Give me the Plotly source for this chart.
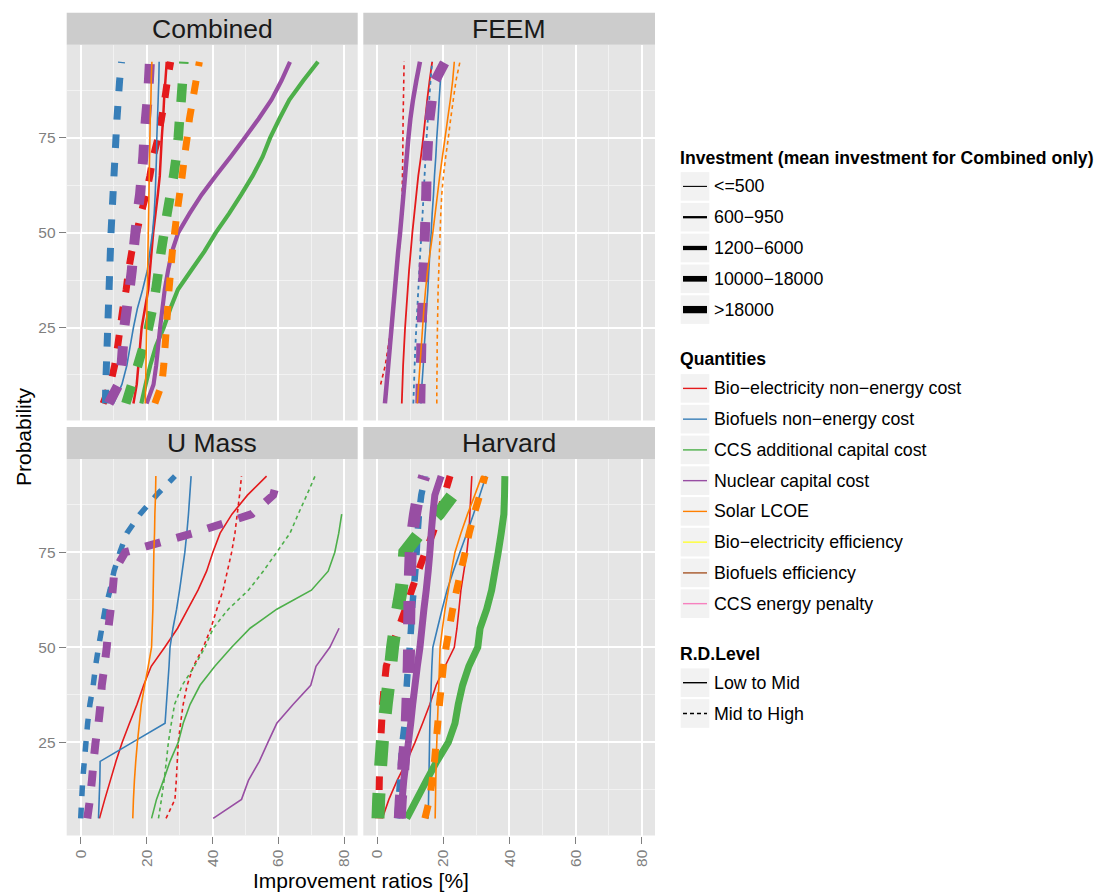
import plotly.graph_objects as go

W, H = 1096, 892

# ---------------- data ----------------
PROB = [5, 10, 15, 20, 25, 30, 35, 40, 45, 50, 55, 60, 65, 70, 75, 80, 85, 90, 95]

PANELS = ["Combined", "FEEM", "U Mass", "Harvard"]
QUANTITIES = ["Bio\u2212electricity non\u2212energy cost", "Biofuels non\u2212energy cost",
              "CCS additional capital cost", "Nuclear capital cost", "Solar LCOE",
              "Bio\u2212electricity efficiency", "Biofuels efficiency", "CCS energy penalty"]
INVEST_LEVELS = ["<=500", "600\u2212950", "1200\u22126000", "10000\u221218000", ">18000"]
RD_LEVELS = ["Low to Mid", "Mid to High"]
X_TICKS = [0, 20, 40, 60, 80]
Y_TICKS = [25, 50, 75]

# Combined
C_BIOELEC_LOW = [16, 17, 17.5, 18, 18.5, 19.5, 20.5, 21, 21.5, 22, 22.7, 23.4, 24, 24.3, 24.6, 25, 25.3, 25.7, 26.1]
C_BIOELEC_HIGH = [6.8, 9, 10.3, 11.2, 12, 12.8, 13.8, 14.5, 15.5, 17, 18.3, 19.8, 21, 22, 23.5, 24.5, 25.5, 26.3, 27.3]
C_BIOFUEL_LOW = [10, 12.5, 14, 15, 16, 17.2, 18.8, 20.2, 21, 21.8, 22.3, 22.6, 22.8, 23, 23.1, 23.3, 23.5, 23.7, 23.8]
C_BIOFUEL_HIGH = [7.5, 7.6, 7.8, 8.0, 8.2, 8.4, 8.6, 8.8, 9.0, 9.2, 9.5, 9.8, 10.1, 10.4, 10.7, 11.0, 11.4, 11.8, 12.4]
C_CCS_LOW = [18.4, 19.7, 21.1, 22.8, 25.2, 27.2, 29.5, 33.5, 37.5, 41, 45, 48.7, 52.2, 55.2, 57.5, 60.3, 63.3, 67.5, 72]
C_CCS_HIGH = [13.7, 15.5, 17.3, 19, 20.6, 21.8, 22.8, 23.6, 24.4, 25.3, 26.2, 27.2, 28.2, 29, 29.6, 30, 30.5, 30.9, 31.3]
C_NUC_LOW = [20, 22.1, 22.9, 23.5, 24.1, 24.8, 25.5, 26.5, 27.7, 29.6, 33, 36.7, 41, 45.5, 49.8, 54, 57.9, 60.9, 63.5]
C_NUC_HIGH = [8.5, 11.5, 12.4, 12.8, 13.2, 14, 14.8, 15.5, 16, 16.6, 17.2, 18, 18.5, 19, 19.3, 19.8, 20.3, 20.7, 21]
C_SOLAR_LOW = [19.6, 19.7, 19.8, 19.9, 20.0, 20.1, 20.2, 20.3, 20.4, 20.5, 20.6, 20.7, 20.8, 20.9, 21.0, 21.1, 21.3, 21.4, 21.6]
C_SOLAR_HIGH = [22.5, 24.6, 25.2, 25.6, 26, 26.4, 26.8, 27.3, 27.8, 28.5, 29.2, 30, 30.8, 31.5, 32.3, 33, 34, 35, 36]

# FEEM
F_BIOELEC_LOW = [7.4, 7.6, 7.8, 8.1, 8.4, 8.8, 9.2, 9.6, 10.1, 10.6, 11.2, 11.8, 12.4, 13.2, 13.9, 14.5, 15.1, 15.8, 16.6]
F_BIOELEC_HIGH = [None, 1.0, 2.4, 3.3, 4.1, 4.8, 5.4, 6.0, 6.6, 7.0, 7.3, 7.5, 7.6, 7.7, 7.75, 7.8, 7.9, 8.0, 8.1]
F_BIOFUEL_LOW = [13.2, 13.5, 13.9, 14.2, 14.6, 14.9, 15.3, 15.6, 15.9, 16.3, 16.6, 17.0, 17.3, 17.7, 18.0, 18.4, 18.7, 19.1, 19.5]
F_BIOFUEL_HIGH = [10.9, 11.1, 11.3, 11.5, 11.8, 12.1, 12.4, 12.7, 13.0, 13.4, 13.7, 14, 14.3, 14.6, 14.9, 15.3, 15.7, 16.1, 16.6]
F_NUC_LOW = [2.3, 2.8, 3.3, 3.8, 4.3, 4.8, 5.3, 5.8, 6.3, 6.9, 7.4, 7.9, 8.4, 8.9, 9.4, 10, 10.8, 11.8, 12.9]
F_NUC_HIGH = [13.0, 13.1, 13.2, 13.3, 13.4, 13.6, 13.8, 14.0, 14.2, 14.4, 14.6, 14.8, 14.9, 15.1, 15.4, 15.8, 16.5, 17.5, 20.5]
F_SOLAR_LOW = [12.1, 12.5, 12.9, 13.3, 13.7, 14.1, 14.6, 15.2, 16, 16.8, 17.5, 18.2, 18.9, 19.7, 20.5, 21.3, 22.1, 22.8, 23.3]
F_SOLAR_HIGH = [18, 18, 18.1, 18.1, 18.2, 18.3, 18.4, 18.6, 18.8, 19, 19.2, 19.5, 20, 20.7, 21.5, 22.2, 23, 23.8, 25]

# U Mass
U_BIOELEC_LOW = [5.7, 7.3, 9.0, 10.7, 12.6, 14.8, 17.1, 19.1, 21.4, 25.5, 29.4, 32.5, 35.6, 38.2, 40.1, 42.3, 45.9, 50.6, 56.4]
U_BIOELEC_HIGH = [25.9, 28.6, 29, 29.3, 29.6, 30.3, 31.1, 32.3, 34.2, 37.2, 39.5, 41.3, 43.2, 44.5, 45.8, 46.8, 47.5, 48.2, 48.8]
U_BIOFUEL_LOW = [5.4, 5.6, 5.8, 5.9, 15.7, 25.6, 26, 26.4, 26.8, 27.1, 28, 29.1, 30, 30.8, 31.6, 32.2, 32.7, 33.1, 33.5]
U_BIOFUEL_HIGH = [0, 0.3, 0.6, 1.1, 1.6, 2.1, 2.8, 3.8, 4.5, 5.4, 6.4, 7.4, 8.9, 10.1, 11.9, 14, 18, 23, 28.6]
U_CCS_LOW = [21.5, 23, 25.1, 27.1, 29.6, 31.1, 33.2, 36.2, 40.7, 45.8, 51.4, 59.5, 70, 75.1, 77.1, 78.3, 79.2]
U_CCS_HIGH = [23.6, 24.5, 25.3, 26, 26.6, 27.5, 28.5, 30.8, 34.5, 37.7, 40.2, 44.8, 50.9, 55.4, 59.5, 63.5, 66, 68.6, 71.1]
U_NUC_LOW = [40.2, 48.8, 50.9, 54.2, 56.8, 59.5, 64.5, 69.8, 71.4, 75.6, 78.4]
U_NUC_HIGH = [2, 2.8, 3.4, 3.9, 4.5, 5.4, 6, 6.4, 7.2, 7.9, 8.4, 9.1, 9.7, 10.2, 13.5, 34.2, 51.9, 58.4, 60]
U_SOLAR_LOW = [15.8, 16.0, 16.3, 16.7, 17.2, 17.8, 18.4, 19.4, 20.5, 21.5, 21.7, 21.9, 22.0, 22.1, 22.2, 22.4, 22.5, 22.7, 22.8]

# Harvard
H_BIOELEC_LOW = [1.5, 3.5, 6.0, 8.9, 11.4, 13.7, 15.9, 17.8, 20.5, 23.3, 24.1, 24.7, 25.3, 26.2, 27.1, 27.7, 28.0, 28.3, 28.6]
H_BIOELEC_HIGH = [0.3, 0.5, 0.6, 0.8, 1.0, 1.3, 1.6, 2.1, 2.7, 4.3, 6.4, 8.5, 10.4, 12.4, 14.5, 16.8, 18.7, 20.3, 22]
H_BIOFUEL_LOW = [15.4, 15.5, 15.6, 15.7, 15.8, 15.9, 16.1, 16.3, 16.5, 16.8, 18.2, 19.6, 21.1, 23, 25, 27.1, 29.1, 31, 32.9]
H_BIOFUEL_HIGH = [6, 6.5, 6.9, 7.2, 7.6, 8.3, 8.6, 8.9, 9.3, 9.8, 10.2, 10.5, 11, 11.5, 11.9, 12.2, 12.6, 13.3, 14.5]
H_CCS_LOW = [8.9, 11.9, 14.9, 18, 21.5, 23.5, 24.5, 25.8, 27.7, 30.4, 31.1, 33.1, 34.6, 35.6, 36.6, 37.5, 38.3, 38.5, 38.6]
H_CCS_HIGH = [0.2, 0.4, 0.7, 1.1, 1.5, 2.1, 2.7, 3.4, 4.0, 4.6, 5.4, 6.2, 7.2, 7.9, 8.3, 12.8, 18.5, 22.8, 27]
H_NUC_LOW = [6.9, 7.5, 8.0, 8.7, 9.4, 10.1, 10.7, 11.4, 12.1, 12.9, 13.5, 14.1, 14.8, 15.4, 15.9, 16.3, 16.8, 17.4, 19.3]
H_NUC_HIGH = [6.8, 7.1, 7.6, 8.0, 8.5, 8.9, 9.1, 9.3, 9.5, 9.6, 9.6, 9.7, 9.7, 9.9, 10.1, 10.6, 11.4, 12.4, 14.2]
H_SOLAR_LOW = [17.5, 17.6, 17.7, 17.8, 18, 18.2, 18.4, 18.6, 18.8, 19, 19.7, 20.5, 21.5, 22.4, 23.5, 25.3, 27.3, 29.5, 31.6]
H_SOLAR_HIGH = [14.4, 15.8, 16.6, 17.3, 17.8, 18.3, 18.8, 19.4, 20, 20.8, 21.8, 22.8, 24, 25.3, 26.6, 27.8, 29.3, 31, 32.6]

# series: (panel index, quantity index, R&D level index, values)
SERIES = [
    (0, 0, 0, C_BIOELEC_LOW), (0, 0, 1, C_BIOELEC_HIGH),
    (0, 1, 0, C_BIOFUEL_LOW), (0, 1, 1, C_BIOFUEL_HIGH),
    (0, 2, 0, C_CCS_LOW), (0, 2, 1, C_CCS_HIGH),
    (0, 3, 0, C_NUC_LOW), (0, 3, 1, C_NUC_HIGH),
    (0, 4, 0, C_SOLAR_LOW), (0, 4, 1, C_SOLAR_HIGH),
    (1, 0, 0, F_BIOELEC_LOW), (1, 0, 1, F_BIOELEC_HIGH),
    (1, 1, 0, F_BIOFUEL_LOW), (1, 1, 1, F_BIOFUEL_HIGH),
    (1, 3, 0, F_NUC_LOW), (1, 3, 1, F_NUC_HIGH),
    (1, 4, 0, F_SOLAR_LOW), (1, 4, 1, F_SOLAR_HIGH),
    (2, 0, 0, U_BIOELEC_LOW), (2, 0, 1, U_BIOELEC_HIGH),
    (2, 1, 0, U_BIOFUEL_LOW), (2, 1, 1, U_BIOFUEL_HIGH),
    (2, 2, 0, U_CCS_LOW), (2, 2, 1, U_CCS_HIGH),
    (2, 3, 0, U_NUC_LOW), (2, 3, 1, U_NUC_HIGH),
    (2, 4, 0, U_SOLAR_LOW),
    (3, 0, 0, H_BIOELEC_LOW), (3, 0, 1, H_BIOELEC_HIGH),
    (3, 1, 0, H_BIOFUEL_LOW), (3, 1, 1, H_BIOFUEL_HIGH),
    (3, 2, 0, H_CCS_LOW), (3, 2, 1, H_CCS_HIGH),
    (3, 3, 0, H_NUC_LOW), (3, 3, 1, H_NUC_HIGH),
    (3, 4, 0, H_SOLAR_LOW), (3, 4, 1, H_SOLAR_HIGH),
]

# ---------------- style ----------------
QUANT_COLORS = ["#E41A1C", "#377EB8", "#4DAF4A", "#984EA3", "#FF7F00",
                "#FFFF33", "#A65628", "#F781BF"]
# line widths (px) per (panel, quantity, level) -- investment size as drawn
WIDTHS = {
    (0, 0, 0): 2.5, (0, 0, 1): 7, (0, 1, 0): 1.6, (0, 1, 1): 7, (0, 2, 0): 4.2,
    (0, 2, 1): 9.5, (0, 3, 0): 4.2, (0, 3, 1): 10, (0, 4, 0): 1.6, (0, 4, 1): 7,
    (1, 0, 0): 1.8, (1, 0, 1): 1.6, (1, 1, 0): 1.6, (1, 1, 1): 1.8, (1, 3, 0): 4.5,
    (1, 3, 1): 10, (1, 4, 0): 1.6, (1, 4, 1): 1.6,
    (2, 0, 0): 1.6, (2, 0, 1): 1.6, (2, 1, 0): 1.6, (2, 1, 1): 5.5, (2, 2, 0): 1.6,
    (2, 2, 1): 1.6, (2, 3, 0): 1.6, (2, 3, 1): 8, (2, 4, 0): 1.6,
    (3, 0, 0): 1.6, (3, 0, 1): 7, (3, 1, 0): 1.6, (3, 1, 1): 6.5, (3, 2, 0): 7,
    (3, 2, 1): 13, (3, 3, 0): 7, (3, 3, 1): 12, (3, 4, 0): 1.6, (3, 4, 1): 7,
}
INVEST_KEY_WIDTHS = [1.1, 2.3, 4.3, 5.7, 7.3]

FONT = "Liberation Sans, Arial, Helvetica, sans-serif"
PANEL_BG = "#E5E5E5"
STRIP_BG = "#CCCCCC"
MINOR_GRID = "#F2F2F2"
TICK_GREY = "#7F7F7F"

PANEL_X = [(66.7, 357.7), (363.3, 655.0)]
PANEL_Y = [(44.7, 420.5), (459.0, 835.5)]
STRIP_Y = [(12.7, 44.7), (427.0, 459.0)]
X_RANGE = [-4.25, 84.05]
Y_RANGE = [0.5, 99.5]


def fx(px):
    return px / W


def fy(py):
    return 1 - py / H


def dash_for(w):
    on = max(3.8, 1.95 * w)
    off = max(3.2, 2.1 * w)
    return f"{on:.1f}px,{off:.1f}px"


fig = go.Figure()

for (p, q, lv, vals) in SERIES:
    w = WIDTHS[(p, q, lv)]
    ax = "" if p == 0 else str(p + 1)
    fig.add_trace(go.Scatter(
        x=vals, y=PROB[:len(vals)], mode="lines",
        xaxis="x" + ax, yaxis="y" + ax,
        line=dict(color=QUANT_COLORS[q], width=w, simplify=False,
                  dash="solid" if lv == 0 else dash_for(w)),
        name=QUANTITIES[q] + " / " + RD_LEVELS[lv],
        showlegend=False, hoverinfo="skip",
    ))

layout = dict(
    width=W, height=H, autosize=False,
    margin=dict(l=0, r=0, t=0, b=0),
    paper_bgcolor="white", plot_bgcolor=PANEL_BG,
    font=dict(family=FONT, color="black"),
    showlegend=False,
)

for i in range(4):
    row, col = divmod(i, 2)
    sfx = "" if i == 0 else str(i + 1)
    x0, x1 = PANEL_X[col]
    y0, y1 = PANEL_Y[row]
    layout["xaxis" + sfx] = dict(
        domain=[fx(x0), fx(x1)], range=X_RANGE, anchor="y" + sfx,
        tickmode="array", tickvals=X_TICKS, ticktext=[str(v) for v in X_TICKS],
        showticklabels=(row == 1), ticks="outside" if row == 1 else "",
        ticklen=7, tickwidth=1, tickcolor=TICK_GREY, tickangle=-90,
        tickfont=dict(size=15.5, color=TICK_GREY, family=FONT),
        showgrid=True, gridcolor="white", gridwidth=1.9,
        minor=dict(tickmode="array", tickvals=[10, 30, 50, 70], showgrid=True,
                   gridcolor=MINOR_GRID, gridwidth=1.0),
        zeroline=False, showline=False, fixedrange=True,
    )
    layout["yaxis" + sfx] = dict(
        domain=[fy(y1), fy(y0)], range=Y_RANGE, anchor="x" + sfx,
        tickmode="array", tickvals=Y_TICKS, ticktext=[str(v) for v in Y_TICKS],
        showticklabels=(col == 0), ticks="outside" if col == 0 else "",
        ticklen=7, tickwidth=1, tickcolor=TICK_GREY,
        tickfont=dict(size=15.5, color=TICK_GREY, family=FONT),
        showgrid=True, gridcolor="white", gridwidth=1.9,
        minor=dict(tickmode="array", tickvals=[12.5, 37.5, 62.5, 87.5], showgrid=True,
                   gridcolor=MINOR_GRID, gridwidth=1.0),
        zeroline=False, showline=False, fixedrange=True,
    )

shapes = []
annotations = []

# strips
for i, name in enumerate(PANELS):
    row, col = divmod(i, 2)
    x0, x1 = PANEL_X[col]
    s0, s1 = STRIP_Y[row]
    shapes.append(dict(type="rect", xref="paper", yref="paper",
                       x0=fx(x0), x1=fx(x1), y0=fy(s1), y1=fy(s0),
                       fillcolor=STRIP_BG, line=dict(width=0), layer="below"))
    annotations.append(dict(text=name, xref="paper", yref="paper",
                            x=fx((x0 + x1) / 2), y=fy((s0 + s1) / 2),
                            xanchor="center", yanchor="middle", showarrow=False,
                            font=dict(size=26.5, color="#1A1A1A", family=FONT)))

# axis titles
annotations.append(dict(text="Improvement ratios [%]", xref="paper", yref="paper",
                        x=fx(361), y=fy(880), xanchor="center", yanchor="middle",
                        showarrow=False, font=dict(size=21, color="black", family=FONT)))
annotations.append(dict(text="Probability", xref="paper", yref="paper",
                        x=fx(23), y=fy(437), xanchor="center", yanchor="middle",
                        textangle=-90, showarrow=False,
                        font=dict(size=21, color="black", family=FONT)))

# legend (drawn manually, ggplot style)
KEY_X0, KEY_X1 = 680.7, 709.3
LINE_X0, LINE_X1 = 683.0, 707.0
LABEL_X = 711.5
KEY_H = 28.6
LEG_FONT = 17.8
TITLE_FONT = 17.6


def legend_title(text, yc):
    annotations.append(dict(text="<b>" + text + "</b>", xref="paper", yref="paper",
                            x=fx(677.5), y=fy(yc), xanchor="left", yanchor="middle",
                            showarrow=False, font=dict(size=TITLE_FONT, color="black", family=FONT)))


def legend_key(yc, label, color, width, dash="solid"):
    shapes.append(dict(type="rect", xref="paper", yref="paper",
                       x0=fx(KEY_X0), x1=fx(KEY_X1), y0=fy(yc + KEY_H / 2), y1=fy(yc - KEY_H / 2),
                       fillcolor="#F2F2F2", line=dict(width=0)))
    shapes.append(dict(type="line", xref="paper", yref="paper",
                       x0=fx(LINE_X0), x1=fx(LINE_X1), y0=fy(yc), y1=fy(yc),
                       line=dict(color=color, width=width, dash=dash)))
    annotations.append(dict(text=label, xref="paper", yref="paper",
                            x=fx(LABEL_X), y=fy(yc), xanchor="left", yanchor="middle",
                            showarrow=False, font=dict(size=LEG_FONT, color="black", family=FONT)))


legend_title("Investment (mean investment for Combined only)", 158)
for k, lab in enumerate(INVEST_LEVELS):
    legend_key(186.4 + k * 30.8, lab, "black", INVEST_KEY_WIDTHS[k])

legend_title("Quantities", 359)
for k, lab in enumerate(QUANTITIES):
    legend_key(388.4 + k * 30.75, lab, QUANT_COLORS[k], 1.4)

legend_title("R.D.Level", 653.5)
for k, lab in enumerate(RD_LEVELS):
    legend_key(682.7 + k * 30.8, lab, "black", 1.4, "solid" if k == 0 else "4px,3px")

layout["shapes"] = shapes
layout["annotations"] = annotations
fig.update_layout(**layout)

fig.write_html("out.html", config={"displayModeBar": False},
               post_script="document.body.style.margin='0px';document.body.style.padding='0px';")
